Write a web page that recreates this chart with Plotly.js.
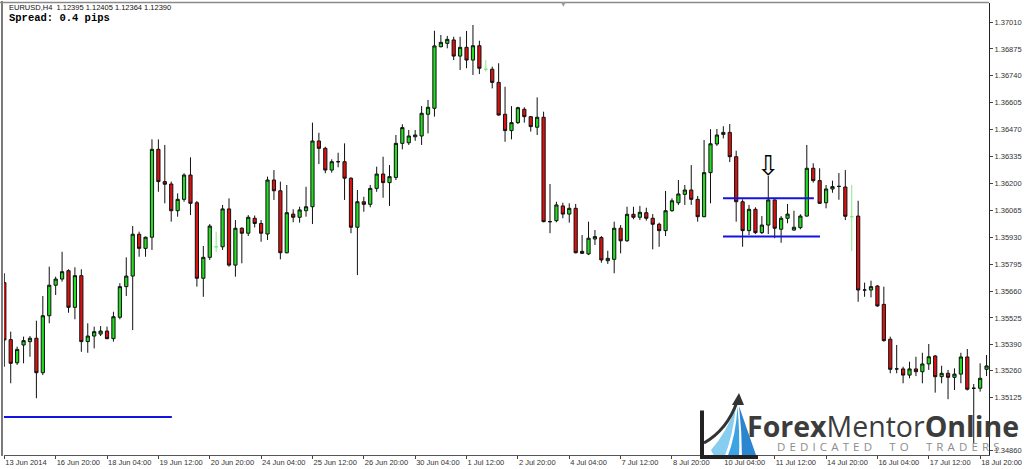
<!DOCTYPE html>
<html>
<head>
<meta charset="utf-8">
<script src="https://cdn.plot.ly/plotly-3.0.1.min.js"></script>
<style>
html,body{margin:0;padding:0;background:#fff;}
#chart{width:1024px;height:469px;}
</style>
</head>
<body>
<div id="chart"></div>
<script>
// EURUSD H4 candles, bar 0 = 13 Jun 2014 12:00
const openP = [
1.35702,1.35416,1.35300,1.35389,1.35406,1.35423,1.35250,1.35536,1.35689,1.35720,
1.35762,1.35578,1.35737,1.35406,1.35434,1.35444,1.35459,1.35421,1.35528,1.35682,
1.35735,1.35945,1.35874,1.35930,1.36371,1.36209,1.36197,1.36063,1.36120,1.36242,
1.36103,1.35724,1.35829,1.35882,1.35882,1.36072,1.35790,1.35975,1.35950,1.36025,
1.35999,1.35946,1.36217,1.36163,1.35852,1.36046,1.36030,1.36063,1.36083,1.36413,
1.36376,1.36267,1.36309,1.36309,1.36226,1.35980,1.36108,1.36095,1.36175,1.36247,
1.36204,1.36230,1.36401,1.36404,1.36434,1.36438,1.36547,1.36577,1.36886,1.36903,
1.36920,1.36839,1.36883,1.36819,1.36891,1.36773,1.36773,1.36707,1.36547,1.36465,
1.36505,1.36572,1.36535,1.36482,1.36532,1.36008,1.36013,1.36087,1.36046,1.36075,
1.35859,1.35846,1.35921,1.35928,1.35812,1.35819,1.35975,1.35912,1.36045,1.36030,
1.36053,1.36025,1.35995,1.35963,1.36063,1.36103,1.36145,1.36167,1.36120,1.36033,
1.36254,1.36398,1.36446,1.36456,1.36334,1.36108,1.35963,1.36070,1.35953,1.35991,
1.36117,1.35970,1.36025,1.35966,1.35978,1.36036,1.36276,1.36214,1.36103,1.36172,
1.36185,1.36182,1.36033,1.36036,1.35665,1.35665,1.35685,1.35593,1.35418,1.35269,
1.35269,1.35238,1.35269,1.35255,1.35294,1.35334,1.35230,1.35247,1.35227,1.35243,
1.35329,1.35172,1.35172,1.35267
];
const highP = [
1.35749,1.35456,1.35381,1.35431,1.35434,1.35511,1.35635,1.35782,1.35732,1.35857,
1.35769,1.35779,1.35769,1.35498,1.35481,1.35484,1.35481,1.35556,1.35699,1.35829,
1.35986,1.35958,1.35933,1.36421,1.36421,1.36393,1.36209,1.36150,1.36251,1.36331,
1.36112,1.35886,1.35996,1.35958,1.36092,1.36125,1.36016,1.35980,1.36041,1.36039,
1.36016,1.36234,1.36267,1.36209,1.36192,1.36070,1.36083,1.36183,1.36505,1.36454,
1.36384,1.36321,1.36354,1.36401,1.36231,1.36167,1.36133,1.36192,1.36284,1.36334,
1.36292,1.36443,1.36497,1.36468,1.36468,1.36588,1.36619,1.36966,1.36945,1.36940,
1.36936,1.36936,1.36965,1.36995,1.36916,1.36819,1.36786,1.36803,1.36685,1.36588,
1.36585,1.36582,1.36538,1.36632,1.36560,1.36197,1.36108,1.36103,1.36100,1.36097,
1.35941,1.36008,1.35966,1.35936,1.35862,1.36008,1.35991,1.36083,1.36083,1.36087,
1.36078,1.36046,1.36003,1.36162,1.36125,1.36217,1.36192,1.36292,1.36137,1.36418,
1.36472,1.36473,1.36487,1.36498,1.36364,1.36120,1.36092,1.36080,1.36036,1.36237,
1.36120,1.36036,1.36097,1.36063,1.36045,1.36393,1.36301,1.36276,1.36192,1.36214,
1.36252,1.36267,1.36192,1.36113,1.35702,1.35712,1.35690,1.35682,1.35431,1.35389,
1.35280,1.35305,1.35330,1.35350,1.35394,1.35339,1.35285,1.35264,1.35272,1.35350,
1.35369,1.35193,1.35297,1.35339
];
const lowP = [
1.35280,1.35197,1.35289,1.35297,1.35330,1.35122,1.35238,1.35498,1.35640,1.35707,
1.35551,1.35518,1.35355,1.35350,1.35372,1.35434,1.35418,1.35406,1.35518,1.35635,
1.35464,1.35832,1.35832,1.35866,1.36158,1.36100,1.36008,1.36033,1.36108,1.36041,
1.35682,1.35631,1.35816,1.35857,1.35866,1.35782,1.35732,1.35799,1.35936,1.35979,
1.35907,1.35916,1.36117,1.35819,1.35849,1.36005,1.36003,1.36033,1.35996,1.36297,
1.36251,1.36254,1.36281,1.36117,1.35950,1.35740,1.36058,1.36080,1.36158,1.36128,
1.36087,1.36217,1.36371,1.36393,1.36414,1.36393,1.36451,1.36535,1.36883,1.36878,
1.36819,1.36769,1.36778,1.36744,1.36749,1.36761,1.36677,1.36540,1.36409,1.36421,
1.36498,1.36505,1.36460,1.36443,1.36005,1.35950,1.36005,1.36025,1.36003,1.35849,
1.35846,1.35841,1.35891,1.35802,1.35796,1.35749,1.35849,1.35907,1.36020,1.36016,
1.36013,1.35869,1.35882,1.35936,1.36058,1.36092,1.36092,1.36092,1.36008,1.36030,
1.36100,1.36388,1.36426,1.36307,1.36008,1.35882,1.35941,1.35946,1.35946,1.35946,
1.35925,1.35902,1.36000,1.35963,1.35970,1.36033,1.36204,1.36097,1.36075,1.36153,
1.36118,1.36016,1.35861,1.35606,1.35631,1.35628,1.35581,1.35406,1.35247,1.35247,
1.35197,1.35222,1.35233,1.35197,1.35264,1.35150,1.35197,1.35117,1.35163,1.35197,
1.35161,1.34897,1.35155,1.35233
];
const closeP = [
1.35414,1.35297,1.35367,1.35411,1.35423,1.35250,1.35536,1.35689,1.35720,1.35757,
1.35578,1.35737,1.35406,1.35434,1.35456,1.35459,1.35421,1.35531,1.35682,1.35735,
1.35945,1.35874,1.35930,1.36371,1.36209,1.36196,1.36063,1.36120,1.36242,1.36100,
1.35724,1.35829,1.35986,1.35882,1.36072,1.35790,1.35975,1.35950,1.36030,1.35999,
1.35950,1.36217,1.36163,1.35852,1.36053,1.36030,1.36067,1.36083,1.36413,1.36376,
1.36267,1.36309,1.36309,1.36226,1.35980,1.36108,1.36095,1.36175,1.36247,1.36204,
1.36234,1.36401,1.36480,1.36438,1.36443,1.36552,1.36582,1.36890,1.36908,1.36923,
1.36839,1.36883,1.36819,1.36891,1.36778,1.36773,1.36707,1.36543,1.36465,1.36505,
1.36580,1.36535,1.36485,1.36532,1.36008,1.36008,1.36092,1.36046,1.36075,1.35852,
1.35849,1.35925,1.35933,1.35816,1.35824,1.35975,1.35912,1.36045,1.36030,1.36055,
1.36025,1.35995,1.35963,1.36063,1.36113,1.36147,1.36167,1.36120,1.36033,1.36254,
1.36399,1.36443,1.36456,1.36334,1.36108,1.35963,1.36070,1.35953,1.35991,1.36117,
1.35975,1.36025,1.36046,1.35980,1.36036,1.36276,1.36214,1.36100,1.36172,1.36184,
1.36185,1.36035,1.36033,1.35665,1.35665,1.35682,1.35585,1.35411,1.35267,1.35269,
1.35238,1.35269,1.35255,1.35294,1.35330,1.35230,1.35247,1.35227,1.35243,1.35329,
1.35167,1.35172,1.35222,1.35284
];
// dojis drawn in the light "line chart" colour
const lightDojiBars = [33, 75, 132];

const xTickLabels = ['13 Jun 2014','16 Jun 20:00','18 Jun 04:00','19 Jun 12:00','20 Jun 20:00',
  '24 Jun 04:00','25 Jun 12:00','26 Jun 20:00','30 Jun 04:00','1 Jul 12:00','2 Jul 20:00',
  '4 Jul 04:00','7 Jul 12:00','8 Jul 20:00','10 Jul 04:00','11 Jul 12:00','14 Jul 20:00',
  '16 Jul 04:00','17 Jul 12:00','18 Jul 20:00'];
const barsPerLabel = 8;
const yTickLabels = ['1.37010','1.36875','1.36740','1.36605','1.36470','1.36335','1.36200',
  '1.36065','1.35930','1.35795','1.35660','1.35525','1.35390','1.35260','1.35125','1.34860'];

// horizontal levels drawn on the chart (price, from bar, to bar)
const levelPrice = [1.35028, 1.36125, 1.35933];
const levelFromBar = [-0.05, 111.95, 111.95];
const levelToBar = [26.1, 126.1, 127.05];
// signal arrow
const signalBar = 119;
const signalPrice = 1.36290;

const bars = openP.map((_, i) => i);
const isLight = i => lightDojiBars.indexOf(i) >= 0;
const pick = (arr, keepLight) => arr.map((v, i) => (isLight(i) === keepLight ? v : null));

const traces = [
  {
    type: 'candlestick', x: bars,
    open: pick(openP, false), high: pick(highP, false), low: pick(lowP, false), close: pick(closeP, false),
    increasing: {fillcolor: '#22dd22', line: {color: '#111', width: 1}},
    decreasing: {fillcolor: '#dd1111', line: {color: '#111', width: 1}},
    whiskerwidth: 0, showlegend: false, hoverinfo: 'skip'
  },
  {
    type: 'candlestick', x: bars,
    open: pick(openP, true), high: pick(highP, true), low: pick(lowP, true), close: pick(closeP, true),
    increasing: {fillcolor: '#88ee88', line: {color: '#88e888', width: 1}},
    decreasing: {fillcolor: '#88ee88', line: {color: '#88e888', width: 1}},
    whiskerwidth: 0, showlegend: false, hoverinfo: 'skip'
  }
];
levelPrice.forEach((p, i) => {
  traces.push({
    type: 'scatter', mode: 'lines', x: [levelFromBar[i], levelToBar[i]], y: [p, p],
    line: {color: '#1414e0', width: 2}, showlegend: false, hoverinfo: 'skip'
  });
});

// decoration helpers (pixel -> paper) for frame & logo only
const L = 4, R = 35, T = 3, B = 14, W = 1024, H = 469;
const PW = W - L - R, PH = H - T - B;
const X = px => (px - L) / PW;
const Y = py => (H - B - py) / PH;
const pt = (x, y) => X(x).toFixed(5) + ',' + Y(y).toFixed(5);

const shapes = [
  {type: 'line', xref: 'paper', yref: 'paper', x0: X(2), x1: X(2), y0: Y(456), y1: Y(1), line: {color: '#7a7a7a', width: 2}},
  {type: 'line', xref: 'paper', yref: 'paper', x0: X(0), x1: X(989), y0: Y(2.5), y1: Y(2.5), line: {color: '#8a8a8a', width: 1.5}},
  // logo swoosh
  {type: 'path', xref: 'paper', yref: 'paper', line: {width: 0}, fillcolor: '#86cdf0',
   path: 'M' + pt(711,450) + ' Q' + pt(727,432) + ' ' + pt(736,406) + ' Q' + pt(733,436) + ' ' + pt(724,458) + ' L' + pt(715,458) + ' Z'},
  {type: 'path', xref: 'paper', yref: 'paper', line: {width: 0}, fillcolor: '#3da3e3',
   path: 'M' + pt(727,458) + ' Q' + pt(736,436) + ' ' + pt(737.5,406) + ' Q' + pt(740,436) + ' ' + pt(739,458) + ' Z'},
  {type: 'path', xref: 'paper', yref: 'paper', line: {width: 0}, fillcolor: '#2a86d0',
   path: 'M' + pt(742,458) + ' Q' + pt(742,432) + ' ' + pt(739,406) + ' Q' + pt(748,432) + ' ' + pt(757,458) + ' Z'},
  {type: 'path', xref: 'paper', yref: 'paper', line: {color: '#333', width: 3},
   path: 'M' + pt(704,443) + ' Q' + pt(727,430) + ' ' + pt(737,402)},
  {type: 'path', xref: 'paper', yref: 'paper', line: {width: 0}, fillcolor: '#333',
   path: 'M' + pt(732,405) + ' L' + pt(739,393) + ' L' + pt(744,405) + ' Z'},
  {type: 'rect', xref: 'paper', yref: 'paper', x0: X(700), x1: X(704), y0: Y(459), y1: Y(410.5), line: {width: 0}, fillcolor: '#222'},
  {type: 'rect', xref: 'paper', yref: 'paper', x0: X(700), x1: X(758), y0: Y(459), y1: Y(455), line: {width: 0}, fillcolor: '#222'}
];

const nb = '\u00a0';
const spaced = s => s.split('').map(c => (c === ' ' ? nb + nb + nb : c)).join(nb + '\u200a');
const annotations = [
  {xref: 'paper', yref: 'paper', x: X(7), y: Y(7.5), xanchor: 'left', yanchor: 'middle', showarrow: false,
   text: 'EURUSD,H4' + nb + nb + '1.12395 1.12405 1.12364 1.12390',
   font: {family: 'Liberation Sans, Arial, sans-serif', size: 7.5, color: '#111'}},
  {xref: 'paper', yref: 'paper', x: X(7), y: Y(18), xanchor: 'left', yanchor: 'middle', showarrow: false,
   text: '<b>Spread: 0.4 pips</b>',
   font: {family: 'Liberation Mono, monospace', size: 10.5, color: '#000'}},
  {xref: 'paper', yref: 'paper', x: X(563), y: Y(4), xanchor: 'center', yanchor: 'middle', showarrow: false,
   text: '▼', font: {family: 'DejaVu Sans', size: 6, color: '#9a9a9a'}},
  {xref: 'x', yref: 'y', x: signalBar, y: signalPrice, xanchor: 'center', yanchor: 'middle', showarrow: false,
   text: '⇩', font: {family: 'DejaVu Sans', size: 27, color: '#000'}},
  {xref: 'paper', yref: 'paper', x: X(745), y: Y(426), xanchor: 'left', yanchor: 'middle', showarrow: false,
   text: '<b>Forex</b>Mentor<b>Online</b>',
   font: {family: 'Open Sans, sans-serif', size: 28.5, color: '#3c3c3c'}},
  {xref: 'paper', yref: 'paper', x: X(775), y: Y(446.5), xanchor: 'left', yanchor: 'middle', showarrow: false,
   text: spaced('DEDICATED TO TRADERS'),
   font: {family: 'Open Sans, sans-serif', size: 11.5, color: '#8c8c8c'}}
];

const layout = {
  width: W, height: H,
  margin: {l: L, r: R, t: T, b: B, pad: 0},
  paper_bgcolor: '#ffffff', plot_bgcolor: '#ffffff',
  showlegend: false, hovermode: false,
  boxgap: 0.5, boxgroupgap: 0, boxmode: 'overlay',
  xaxis: {
    type: 'linear', range: [-0.047, 153.38], fixedrange: true,
    showgrid: false, zeroline: false, showline: true, linecolor: '#555', linewidth: 1,
    ticks: 'outside', ticklen: 3, tickcolor: '#444', tickwidth: 1,
    tickvals: xTickLabels.map((_, i) => i * barsPerLabel), ticktext: xTickLabels,
    ticklabelposition: 'outside right', tickangle: 0, automargin: false,
    tickfont: {family: 'Liberation Sans, Arial, sans-serif', size: 7.5, color: '#333'},
    rangeslider: {visible: false}
  },
  yaxis: {
    side: 'right', range: [1.348370, 1.371054], fixedrange: true, automargin: false,
    showgrid: false, zeroline: false, showline: true, linecolor: '#222', linewidth: 1,
    ticks: 'outside', ticklen: 3, tickcolor: '#444', tickwidth: 1,
    tickvals: yTickLabels.map(Number), ticktext: yTickLabels,
    tickfont: {family: 'Liberation Sans, Arial, sans-serif', size: 7.5, color: '#333'}
  },
  shapes: shapes,
  annotations: annotations
};

Plotly.newPlot('chart', traces, layout, {staticPlot: true, displayModeBar: false});
</script>
</body>
</html>
